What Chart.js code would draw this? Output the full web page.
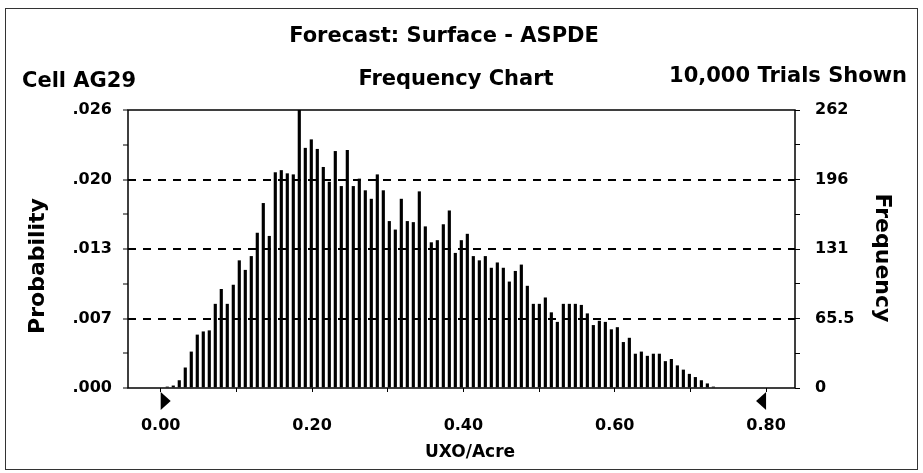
<!DOCTYPE html>
<html>
<head>
<meta charset="utf-8">
<title>Forecast: Surface - ASPDE</title>
<script src="https://cdn.jsdelivr.net/npm/chart.js@4.4.1/dist/chart.umd.min.js"></script>
<style>
  html, body { margin: 0; padding: 0; background: #fff; }
  canvas { display: block; }
</style>
</head>
<body>
<canvas id="chart" width="923" height="473"></canvas>
<script>
// data (10,000 trials)
const BIN_START = 0.0087;   // centre of first bin, UXO/Acre
const BIN_WIDTH = 0.00793;
const FREQUENCIES = [
  1, 2, 7, 19, 34, 50, 53, 54, 79, 93, 79, 97, 120, 111, 124, 146, 174, 143, 203, 205,
  202, 201, 262, 226, 234, 225, 208, 194, 223, 190, 224, 190, 197, 186, 178, 201, 186, 157, 149, 178,
  157, 156, 185, 152, 137, 139, 154, 167, 127, 139, 145, 124, 120, 124, 113, 118, 113, 100, 110, 116,
  96, 79, 79, 85, 71, 62, 79, 79, 79, 78, 70, 59, 63, 62, 55, 57, 43, 47, 32, 34,
  30, 32, 32, 25, 27, 21, 17, 13, 10, 7, 4, 1
];
const FREQ_TICK_VALUES = [0, 65.5, 131, 196.5, 262];
const FREQ_TICK_LABELS = ['0', '65.5', '131', '196', '262'];
const PROB_TICK_LABELS = ['.000', '.007', '.013', '.020', '.026'];
const X_TICK_VALUES = [0, 0.1, 0.2, 0.3, 0.4, 0.5, 0.6, 0.7, 0.8];
const X_TICK_LABELS = ['0.00', '', '0.20', '', '0.40', '', '0.60', '', '0.80'];
const CERTAINTY_RANGE = [0.0, 0.8];

const FONT = 'DejaVu Sans';

// major ticks plus a minor one halfway between each pair
function yTicks() {
  const out = [];
  FREQ_TICK_VALUES.forEach((v, i) => {
    out.push({ value: v });
    if (i < FREQ_TICK_VALUES.length - 1) out.push({ value: (v + FREQ_TICK_VALUES[i + 1]) / 2 });
  });
  return out;
}

const decorations = {
  id: 'decorations',
  afterDraw(chart) {
    const { ctx, chartArea: a } = chart;
    const xs = chart.scales.x;
    ctx.save();

    // outer frame
    ctx.strokeStyle = '#333';
    ctx.lineWidth = 1;
    ctx.strokeRect(5.5, 8.5, 912, 461);

    // plot frame
    ctx.strokeStyle = '#000';
    ctx.lineWidth = 1.5;
    ctx.strokeRect(a.left, a.top, a.right - a.left, a.bottom - a.top);

    // certainty range markers
    ctx.fillStyle = '#000';
    const l = xs.getPixelForValue(CERTAINTY_RANGE[0]);
    const r = xs.getPixelForValue(CERTAINTY_RANGE[1]);
    const t = a.bottom + 4;
    ctx.beginPath();
    ctx.moveTo(l, t); ctx.lineTo(l + 10, t + 9); ctx.lineTo(l, t + 18); ctx.closePath();
    ctx.fill();
    ctx.beginPath();
    ctx.moveTo(r, t); ctx.lineTo(r - 10, t + 9); ctx.lineTo(r, t + 18); ctx.closePath();
    ctx.fill();

    // header texts
    ctx.fillStyle = '#000';
    ctx.textBaseline = 'alphabetic';
    ctx.font = 'bold 21px ' + FONT;
    ctx.textAlign = 'center';
    ctx.fillText('Forecast: Surface - ASPDE', 444, 42);
    ctx.textAlign = 'left';
    ctx.fillText('Cell AG29', 22, 87);
    ctx.textAlign = 'center';
    ctx.fillText('Frequency Chart', 456, 85);
    ctx.textAlign = 'right';
    ctx.fillText('10,000 Trials Shown', 907, 82);

    // axis titles
    ctx.font = 'bold 17px ' + FONT;
    ctx.textAlign = 'center';
    ctx.fillText('UXO/Acre', 470, 457);

    ctx.font = 'bold 22px ' + FONT;
    ctx.save();
    ctx.translate(44, 266);
    ctx.rotate(-Math.PI / 2);
    ctx.fillText('Probability', 0, 0);
    ctx.restore();

    ctx.save();
    ctx.translate(876, 258);
    ctx.rotate(Math.PI / 2);
    ctx.fillText('Frequency', 0, 0);
    ctx.restore();

    ctx.restore();
  }
};

const tickFont = { family: FONT, size: 16, weight: 'bold' };

new Chart(document.getElementById('chart'), {
  type: 'bar',
  data: {
    datasets: [{
      data: FREQUENCIES.map((f, i) => ({ x: BIN_START + i * BIN_WIDTH, y: f })),
      backgroundColor: '#000',
      barThickness: 2.5,
      yAxisID: 'y'
    }]
  },
  options: {
    responsive: false,
    animation: false,
    layout: { padding: { top: 110 } },
    plugins: { legend: { display: false }, tooltip: { enabled: false } },
    scales: {
      x: {
        type: 'linear',
        min: -0.0432,
        max: 0.8382,
        offset: false,
        afterFit: (s) => { s.height = 85; },
        afterBuildTicks: (s) => { s.ticks = X_TICK_VALUES.map((v) => ({ value: v })); },
        border: { display: false },
        grid: { drawOnChartArea: false, offset: false, tickLength: 4, tickColor: '#000', tickWidth: 1 },
        ticks: {
          color: '#000', font: tickFont, padding: 24, autoSkip: false, maxRotation: 0,
          callback: (v, i) => X_TICK_LABELS[i]
        }
      },
      y: {
        position: 'left',
        min: 0,
        max: 262,
        afterFit: (s) => { s.width = 128; },
        afterBuildTicks: (s) => { s.ticks = yTicks(); },
        border: { display: false, dash: [8, 7] },
        grid: {
          color: (c) => (c.index % 2 === 0 && c.index > 0 && c.index < 8) ? '#000' : 'rgba(0,0,0,0)',
          lineWidth: 2,
          tickColor: '#000',
          tickWidth: 1,
          tickLength: 5,
          tickBorderDash: []
        },
        ticks: {
          color: '#000', font: tickFont, padding: 11, autoSkip: false,
          callback: (v, i) => (i % 2 === 0 ? PROB_TICK_LABELS[i / 2] : '')
        }
      },
      y2: {
        position: 'right',
        min: 0,
        max: 262,
        afterFit: (s) => { s.width = 128; },
        afterBuildTicks: (s) => { s.ticks = yTicks(); },
        border: { display: false },
        grid: { drawOnChartArea: false, tickColor: '#000', tickWidth: 1, tickLength: 5 },
        ticks: {
          color: '#000', font: tickFont, padding: 15, autoSkip: false,
          callback: (v, i) => (i % 2 === 0 ? FREQ_TICK_LABELS[i / 2] : '')
        }
      }
    }
  },
  plugins: [decorations]
});
</script>
</body>
</html>
